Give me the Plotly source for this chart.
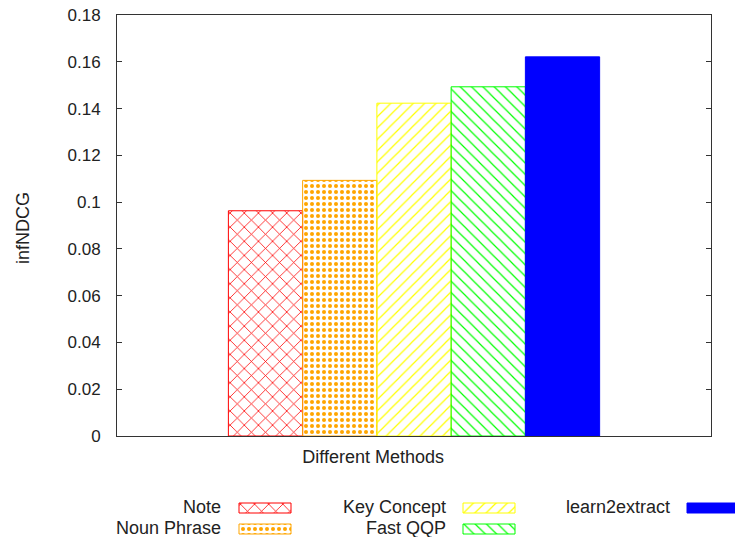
import plotly.graph_objects as go

# ---- data ----
methods = ["Note", "Noun Phrase", "Key Concept", "Fast QQP", "learn2extract"]
infndcg = [0.0963, 0.1093, 0.1423, 0.1493, 0.1621]
group_label = ["Different Methods"]
y_ticks = [0, 0.02, 0.04, 0.06, 0.08, 0.1, 0.12, 0.14, 0.16, 0.18]
y_label = "infNDCG"

# ---- styles ----
colors = ["#FF0000", "#FFA500", "#FFFF00", "#00FF00", "#0000FF"]
pat_shape = ["x", ".", "/", "\\", ""]
pat_size = [10, 6, 8, 8, 8]
pat_solid = [0.15, 0.35, 0.15, 0.15, 0.2]
pat_bg = ["white", "#FFE4B4", "white", "white", "white"]
pat_fg = ["#FF0000", "#FFBA50", "#FFFF00", "#00FF00", "#0000FF"]

W, H = 735, 537
plot_l, plot_r, plot_t, plot_b = 117, 711, 15, 436
FONT = "Liberation Sans, Arial, sans-serif"
TXT = "#222222"

# legend grid (pixel layout)
leg_text_right = [223, 448, 672]
leg_sample_left = [239, 463, 687]
leg_sample_len = 52
leg_rows = [508, 529]

marker = dict(
    color=colors,
    line=dict(color=colors, width=1),
    pattern=dict(shape=pat_shape, size=pat_size, solidity=pat_solid,
                 bgcolor=pat_bg, fgcolor=pat_fg, fillmode="replace"),
)

fig = go.Figure()
fig.add_trace(go.Bar(
    x=[i + 2 for i in range(len(methods))], y=infndcg, width=1,
    marker=marker, showlegend=False, hoverinfo="skip",
))

# legend samples on a pixel-space overlay axis
leg_x, leg_y, leg_base = [], [], []
for i, m in enumerate(methods):
    col, row = i // 2, i % 2
    leg_base.append(leg_sample_left[col])
    leg_y.append(leg_rows[row])
    leg_x.append(leg_sample_len)
    fig.add_annotation(x=leg_text_right[col], y=leg_rows[row] - 1, xref="x2", yref="y2",
                       text=m, showarrow=False, xanchor="right", yanchor="middle",
                       font=dict(family=FONT, size=18, color=TXT))
fig.add_trace(go.Bar(
    orientation="h", x=leg_x, y=leg_y, base=leg_base, width=10,
    marker=marker, xaxis="x2", yaxis="y2", showlegend=False, hoverinfo="skip",
))

fig.add_annotation(x=23 / W, y=(H - 228) / H, xref="paper", yref="paper",
                   xanchor="center", yanchor="middle",
                   text=y_label, textangle=-90, showarrow=False,
                   font=dict(family=FONT, size=18, color=TXT))

fig.update_layout(
    width=W, height=H,
    margin=dict(l=0, r=0, t=0, b=0, autoexpand=False),
    paper_bgcolor="white", plot_bgcolor="white",
    showlegend=False, barmode="overlay",
    font=dict(family=FONT, size=18, color=TXT),
    xaxis=dict(domain=[plot_l / W, plot_r / W], range=[0, 8], automargin=False,
               tickvals=[3.45], ticktext=group_label, ticks="",
               showline=True, mirror=True, linecolor="#333333", linewidth=1,
               showgrid=False, zeroline=False, ticklabelstandoff=4,
               tickfont=dict(family=FONT, size=18, color=TXT)),
    yaxis=dict(domain=[(H - plot_b) / H, (H - plot_t) / H], range=[0, 0.18], automargin=False,
               tickvals=y_ticks, ticks="inside", ticklen=5, tickcolor="#333333",
               showline=True, mirror="ticks", linecolor="#333333", linewidth=1,
               showgrid=False, zeroline=False, ticklabelstandoff=12,
               tickfont=dict(family=FONT, size=17, color=TXT)),
    xaxis2=dict(domain=[0, 1], range=[0, W], visible=False, anchor="y2",
                fixedrange=True, automargin=False),
    yaxis2=dict(domain=[0, 47 / H], range=[H, H - 47], visible=False, anchor="x2",
                fixedrange=True, automargin=False),
)

fig.write_html(
    "out.html",
    config={"displayModeBar": False},
    post_script="document.body.style.margin='0px';document.body.style.overflow='hidden';",
)
